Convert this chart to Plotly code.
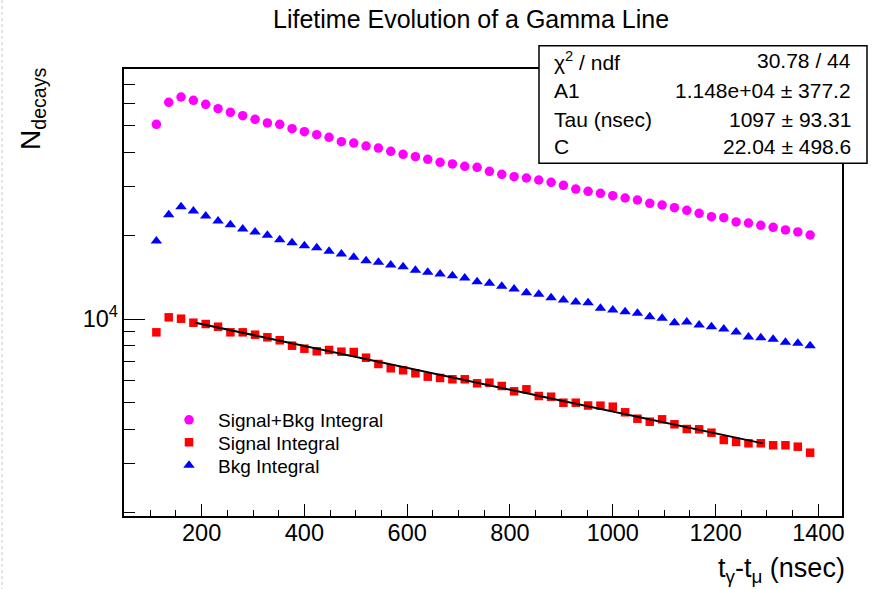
import numpy as np
import plotly.graph_objects as go

# ---------------- data ----------------
t_ns = [112, 136, 160, 184, 208, 232, 256, 280, 304, 328, 352, 376, 400, 424, 448,
        472, 496, 520, 544, 568, 592, 616, 640, 664, 688, 712, 736, 760, 784, 808,
        832, 856, 880, 904, 928, 952, 976, 1000, 1024, 1048, 1072, 1096, 1120, 1144,
        1168, 1192, 1216, 1240, 1264, 1288, 1312, 1336, 1360, 1384]

sig_bkg = [50420, 60540, 63270, 61550, 59540, 57400, 55700, 54160, 52570, 50980,
           50420, 48620, 47420, 46260, 45270, 43630, 43160, 42100, 41400, 40290,
           39300, 38520, 37700, 36770, 36260, 35570, 35270, 34120, 33280, 32620,
           32270, 31740, 31140, 30370, 29450, 28890, 28420, 27860, 27330, 26880,
           26150, 25790, 25210, 24680, 24070, 23400, 23210, 22400, 22200, 21790,
           21420, 20960, 20610, 20100]

signal = [8953, 10140, 10025, 9697, 9593, 9380, 8953, 8953, 8778, 8591,
          8380, 8011, 7814, 7647, 7730, 7621, 7602, 7251, 6882, 6641,
          6531, 6370, 6193, 6126, 6060, 6060, 5861, 5889, 5731, 5484,
          5576, 5274, 5243, 4988, 4988, 4873, 4867, 4826, 4606, 4367,
          4260, 4345, 4169, 4009, 3999, 3888, 3659, 3599, 3560, 3560,
          3502, 3502, 3461, 3293]

bkg = [19120, 23790, 25420, 24530, 23540, 22580, 21890, 21130, 20610, 20050,
       19330, 18860, 18390, 18090, 17550, 17170, 16700, 16240, 16020, 15660,
       15440, 14990, 14740, 14530, 14330, 14060, 13640, 13450, 13120, 12830,
       12440, 12280, 11940, 11710, 11520, 11450, 10930, 10780, 10630, 10490,
       10190, 10060, 9700, 9750, 9512, 9380, 9200, 8980, 8610, 8560,
       8450, 8240, 8170, 8010]

# fit parameters (A1*exp(-t/Tau) + C) and fit range
fit_A1 = [1.148e4]
fit_tau = [1097.0]
fit_C = [22.04]
fit_range = [188, 1292]

stat_labels = ["\u03c7<sup>2</sup> / ndf", "A1", "Tau (nsec)", "C"]
stat_values = ["30.78 / 44", "1.148e+04 \u00b1 377.2", "1097 \u00b1 93.31", "22.04 \u00b1 498.6"]

x_major = [200, 400, 600, 800, 1000, 1200, 1400]
x_minor = [50, 100, 150, 250, 300, 350, 450, 500, 550, 650, 700, 750, 850, 900, 950,
           1050, 1100, 1150, 1250, 1300, 1350, 1450]
y_minor = [2000, 3000, 4000, 5000, 6000, 7000, 8000, 9000,
           20000, 30000, 40000, 50000, 60000, 70000]
y_major = [10000]
y_major_text = ["10<sup>4</sup>"]

# ---------------- layout geometry ----------------
W, H = 872, 589
L, R, T, B = 124, 842, 69, 516
FONT = "Liberation Sans, Arial, Helvetica, sans-serif"


def px(x):
    return (x - L) / (R - L)


def py(y):
    return (B - y) / (B - T)


fig = go.Figure()

fig.add_trace(go.Scatter(x=t_ns, y=sig_bkg, mode="markers", name="Signal+Bkg Integral",
                         legend="legend",
                         marker=dict(symbol="circle", size=9.5, color="#FF00FF")))
fig.add_trace(go.Scatter(x=t_ns, y=signal, mode="markers", name="Signal Integral",
                         legend="legend2",
                         marker=dict(symbol="square", size=8.5, color="#FF0000")))
fig.add_trace(go.Scatter(x=t_ns, y=bkg, mode="markers", name="Bkg Integral",
                         legend="legend3",
                         marker=dict(symbol="triangle-up", size=10, color="#0000FF")))

tf = np.linspace(fit_range[0], fit_range[1], 300)
yf = fit_A1[0] * np.exp(-tf / fit_tau[0]) + fit_C[0]
fig.add_trace(go.Scatter(x=tf, y=yf, mode="lines", yaxis="y2", showlegend=False,
                         line=dict(color="black", width=2), hoverinfo="skip"))

ylog_range = [3.2891, 4.9022]

leg_common = dict(xanchor="left", yanchor="middle", bgcolor="rgba(0,0,0,0)", borderwidth=0,
                  font=dict(size=19, family=FONT, color="black"), itemwidth=48)
legend_rows = [420, 442.5, 465.5]

fig.update_layout(
    width=W, height=H,
    margin=dict(l=L, r=W - R, t=T, b=H - B, pad=0),
    paper_bgcolor="white", plot_bgcolor="white",
    font=dict(family=FONT, color="black"),
    showlegend=True,
    legend=dict(x=px(160), y=py(legend_rows[0]), **leg_common),
    legend2=dict(x=px(160), y=py(legend_rows[1]), **leg_common),
    legend3=dict(x=px(160), y=py(legend_rows[2]), **leg_common),
    xaxis=dict(range=[49, 1446], tickmode="array", tickvals=x_major,
               ticktext=[str(v) for v in x_major],
               ticks="inside", ticklen=12, tickwidth=1.2, tickcolor="black",
               minor=dict(tickmode="array", tickvals=x_minor, ticks="inside",
                          ticklen=6, tickwidth=1.2, tickcolor="black", showgrid=False),
               showline=True, mirror=True, linecolor="black", linewidth=1.5,
               showgrid=False, zeroline=False, ticklabelstandoff=-5,
               tickfont=dict(size=23.5, family=FONT, color="black")),
    yaxis=dict(type="log", range=ylog_range, tickmode="array", tickvals=y_minor,
               showticklabels=False,
               ticks="inside", ticklen=11, tickwidth=1.2, tickcolor="black",
               showline=True, mirror=True, linecolor="black", linewidth=1.5,
               showgrid=False, zeroline=False),
    yaxis2=dict(type="log", range=ylog_range, overlaying="y", side="left",
                tickmode="array", tickvals=y_major, ticktext=y_major_text,
                ticks="inside", ticklen=21, tickwidth=1.2, tickcolor="black",
                showline=False, showgrid=False, zeroline=False, ticklabelstandoff=5,
                tickfont=dict(size=23.5, family=FONT, color="black")),
)

# title
fig.add_annotation(text="Lifetime Evolution of a Gamma Line", xref="paper", yref="paper",
                   x=px(470.5), y=py(18.5), xanchor="center", yanchor="middle",
                   showarrow=False, font=dict(size=25, family=FONT, color="black"))

# axis titles
fig.add_annotation(text="N<sub>decays</sub>", xref="paper", yref="paper",
                   x=px(32), y=py(109), xanchor="center", yanchor="middle",
                   textangle=-90, showarrow=False,
                   font=dict(size=28, family=FONT, color="black"))
fig.add_annotation(text="t<sub>\u03b3</sub>-t<sub>\u03bc</sub> (nsec)", xref="paper", yref="paper",
                   x=px(847), y=py(570), xanchor="right", yanchor="middle",
                   showarrow=False, font=dict(size=27, family=FONT, color="black"))

# stats box
fig.add_shape(type="rect", xref="paper", yref="paper",
              x0=px(539), x1=px(867), y0=py(163.3), y1=py(45.7),
              line=dict(color="black", width=1.5), fillcolor="white", layer="above")
row_y = [61, 90.5, 119, 146.5]
for lab, val, yy in zip(stat_labels, stat_values, row_y):
    fig.add_annotation(text=lab, xref="paper", yref="paper", x=px(552), y=py(yy),
                       xanchor="left", yanchor="middle", showarrow=False,
                       font=dict(size=21, family=FONT, color="black"))
    fig.add_annotation(text=val, xref="paper", yref="paper", x=px(853), y=py(yy),
                       xanchor="right", yanchor="middle", showarrow=False,
                       font=dict(size=21, family=FONT, color="black"))

# faint dotted page border at the left
fig.add_shape(type="line", xref="paper", yref="paper", x0=px(2), x1=px(2), y0=py(0), y1=py(589),
              line=dict(color="#c8c8c8", width=1, dash="dot"), layer="above")

fig.write_html("out.html", post_script="document.body.style.margin='0px';",
               config={"displayModeBar": False})
